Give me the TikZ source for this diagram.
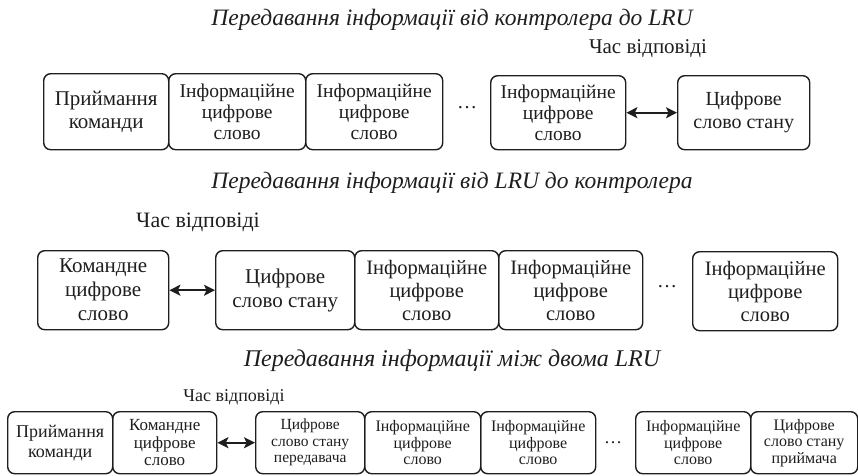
\documentclass[tikz,border=0pt]{standalone}
\usepackage{fontspec}
\setmainfont{Liberation Serif}
\usetikzlibrary{arrows.meta}
\definecolor{ink}{HTML}{1E1E1E}
\tikzset{
  wbox/.style={draw=ink, text=ink, rounded corners=7pt, line width=1.4pt,
    align=center, anchor=north west, inner sep=0pt},
  gap/.style={{Stealth[length=11pt,width=11pt,inset=2.5pt]}-{Stealth[length=11pt,width=11pt,inset=2.5pt]},
    line width=1.8pt, draw=ink},
  heading/.style={text=ink, inner sep=0pt},
  label/.style={text=ink, inner sep=0pt},
  dots/.style={text=ink, inner sep=0pt}
}
\begin{document}
\begin{tikzpicture}[x=1pt,y=-1pt]
\useasboundingbox (0,0) rectangle (858,475);

% ---- first sequence: controller to LRU
\node[heading, font=\fontsize{23.5}{26}\selectfont\itshape] (t1) at (452,20) {Передавання інформації від контролера до LRU};
\node[label, font=\fontsize{21}{23}\selectfont] (r1) at (648,49) {Час відповіді};
\node[wbox, minimum width=125pt, minimum height=76pt, font=\fontsize{21}{23}\selectfont] (a1) at (43,73) {Приймання\\команди};
\node[wbox, minimum width=137pt, minimum height=76pt, font=\fontsize{19.5}{21}\selectfont] (a2) at (168,73) {Інформаційне\\цифрове\\слово};
\node[wbox, minimum width=137pt, minimum height=76pt, font=\fontsize{19.5}{21}\selectfont] (a3) at (305,73) {Інформаційне\\цифрове\\слово};
\node[dots, font=\fontsize{20}{22}\selectfont] (ad) at (467,108) {\dots};
\node[wbox, minimum width=135pt, minimum height=74pt, font=\fontsize{19.5}{21}\selectfont] (a4) at (490,75) {Інформаційне\\цифрове\\слово};
\node[wbox, minimum width=132pt, minimum height=74pt, font=\fontsize{20}{23}\selectfont] (a5) at (677,75) {Цифрове\\слово стану};
\draw[gap] (a4.east) -- (a5.west);

% ---- second sequence: LRU to controller
\node[heading, font=\fontsize{23.5}{26}\selectfont\itshape] (t2) at (452,183) {Передавання інформації від LRU до контролера};
\node[label, font=\fontsize{22}{24}\selectfont] (r2) at (198,222) {Час відповіді};
\node[wbox, minimum width=131pt, minimum height=79pt, font=\fontsize{21}{24}\selectfont] (b1) at (37,250) {Командне\\цифрове\\слово};
\node[wbox, minimum width=139pt, minimum height=79pt, font=\fontsize{21}{24}\selectfont] (b2) at (215,250) {Цифрове\\слово стану};
\node[wbox, minimum width=144pt, minimum height=79pt, font=\fontsize{20.5}{23}\selectfont] (b3) at (354,250) {Інформаційне\\цифрове\\слово};
\node[wbox, minimum width=144pt, minimum height=79pt, font=\fontsize{20.5}{23}\selectfont] (b4) at (498,250) {Інформаційне\\цифрове\\слово};
\node[dots, font=\fontsize{20}{22}\selectfont] (bd) at (667,287) {\dots};
\node[wbox, minimum width=145pt, minimum height=79pt, font=\fontsize{20.5}{23}\selectfont] (b5) at (692,251) {Інформаційне\\цифрове\\слово};
\draw[gap] (b1.east) -- (b2.west);

% ---- third sequence: LRU to LRU
\node[heading, font=\fontsize{24}{26}\selectfont\itshape] (t3) at (452,361) {Передавання інформації між двома LRU};
\node[label, font=\fontsize{18}{20}\selectfont] (r3) at (234,397) {Час відповіді};
\node[wbox, minimum width=105pt, minimum height=62pt, font=\fontsize{18}{20}\selectfont] (c1) at (7,411) {Приймання\\команди};
\node[wbox, minimum width=104pt, minimum height=62pt, font=\fontsize{17}{17.5}\selectfont] (c2) at (112,411) {Командне\\цифрове\\слово};
\node[wbox, minimum width=109pt, minimum height=62pt, font=\fontsize{15.5}{16.5}\selectfont] (c3) at (255,411) {Цифрове\\слово стану\\передавача};
\node[wbox, minimum width=116pt, minimum height=62pt, font=\fontsize{16}{16.5}\selectfont] (c4) at (364,411) {Інформаційне\\цифрове\\слово};
\node[wbox, minimum width=115pt, minimum height=62pt, font=\fontsize{16}{16.5}\selectfont] (c5) at (480,411) {Інформаційне\\цифрове\\слово};
\node[dots, font=\fontsize{18}{20}\selectfont] (cd) at (613,443) {\dots};
\node[wbox, minimum width=115pt, minimum height=62pt, font=\fontsize{16}{16.5}\selectfont] (c6) at (635,411) {Інформаційне\\цифрове\\слово};
\node[wbox, minimum width=107pt, minimum height=62pt, font=\fontsize{16}{16.5}\selectfont] (c7) at (750,411) {Цифрове\\слово стану\\приймача};
\draw[gap] (c2.east) -- (c3.west);
\end{tikzpicture}
\end{document}
